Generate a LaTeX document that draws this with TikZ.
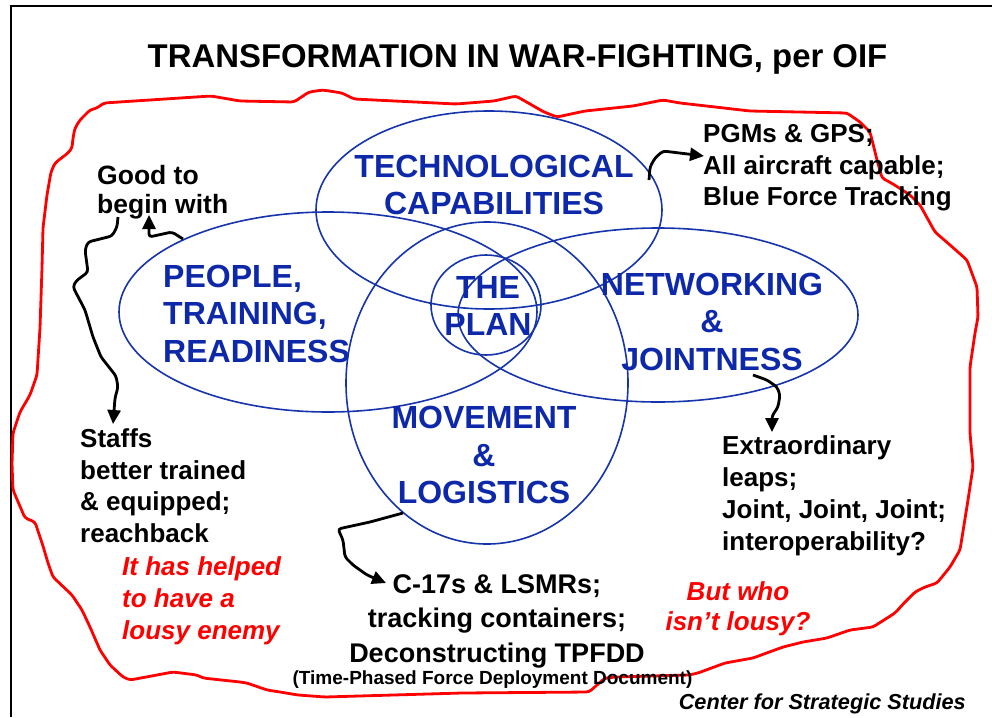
\documentclass[tikz,border=0pt]{standalone}
\usepackage{fontspec}
\setmainfont{Liberation Sans}
\usepackage{tikz}
\usetikzlibrary{arrows.meta,shapes.geometric}
\definecolor{capblue}{RGB}{14,40,170}
\definecolor{ringblue}{RGB}{22,52,172}
\begin{document}
\begin{tikzpicture}[
  x=1pt, y=-1pt,
  ring/.style={draw=ringblue, line width=1.6pt, ellipse, inner sep=0pt},
  big/.style={text=capblue, font=\fontsize{32}{37.5}\selectfont\bfseries, align=center, inner sep=0pt},
  note/.style={font=\fontsize{26}{31.5}\selectfont\bfseries, align=left, inner sep=0pt},
  quip/.style={text=red, font=\fontsize{26}{32}\selectfont\bfseries\itshape, inner sep=0pt},
  flow/.style={-{Triangle[length=14pt, width=13pt]}, line width=2.8pt, rounded corners=3pt}
]
\fill[white] (0,0) rectangle (992,717);
\useasboundingbox (0,0) rectangle (992,717);
\draw[line width=2pt] (11,717) -- (11,6) -- (992,6);

\node[font=\fontsize{32.9}{38}\selectfont\bfseries, inner sep=0pt] (title) at (517.5,59.4) {TRANSFORMATION IN WAR-FIGHTING, per OIF};

\draw[red, line width=2.8pt, rounded corners=3pt]
  (104,103) -- (211,96) -- (240,101) -- (294,102) -- (309,92) -- (323,90) -- (342,93) -- (354,99)
  -- (456,104) -- (494,101) -- (516,96) -- (544,112) -- (557,117) -- (585,111) -- (633,106) -- (663,100)
  -- (680,103) -- (750,111) -- (847,113) -- (860,122) -- (870,132) -- (877,160) -- (882,178) -- (893,184)
  -- (910,195) -- (920,205) -- (935,232) -- (950,245) -- (967,260) -- (977,287) -- (978,317) -- (975,333)
  -- (970,367) -- (970,433) -- (973,467) -- (968,500) -- (960,550) -- (950,567) -- (937,583) -- (925,587)
  -- (915,592) -- (905,602) -- (895,613) -- (873,627) -- (850,630) -- (827,638) -- (803,642) -- (783,647)
  -- (753,658) -- (725,663) -- (698,673) -- (689,675) -- (616,677) -- (605,678) -- (589,692) -- (462,693)
  -- (325,697) -- (298,695) -- (280,692) -- (267,690) -- (247,683) -- (240,682) -- (203,678) -- (197,675)
  -- (173,672) -- (130,680) -- (123,677) -- (110,665) -- (100,650) -- (90,627) -- (82,610) -- (72,595)
  -- (53,577) -- (48,563) -- (43,546) -- (35,522) -- (25,518) -- (13,490) -- (12,464) -- (13,433)
  -- (20,412) -- (30,395) -- (37,375) -- (40,328) -- (42,268) -- (43,228) -- (47,195) -- (51,172)
  -- (55,163) -- (68,153) -- (72,148) -- (73,138) -- (75,128) -- (80,120) -- (90,110)
  -- (97,108) -- cycle;

\node[ring, minimum width=346pt, minimum height=198pt] (techring) at (489,210) {};
\node[ring, minimum width=418pt, minimum height=200pt] (pplring) at (328,312) {};
\node[ring, minimum width=400pt, minimum height=174pt] (netring) at (658,315) {};
\node[ring, minimum width=282pt, minimum height=322pt] (movring) at (487,383) {};
\node[ring, minimum width=110pt, minimum height=100pt] (planring) at (486,305) {};

\node[big] (tech) at (494,184.8) {TECHNOLOGICAL\\CAPABILITIES};
\node[big, anchor=west, align=left] (ppl) at (163,313.6) {PEOPLE,\\TRAINING,\\READINESS};
\node[big] (plan) at (488,306) {THE\\PLAN};
\node[big] (net) at (712,321.6) {NETWORKING\\\&\\JOINTNESS};
\node[big] (mov) at (484,455) {MOVEMENT\\\&\\LOGISTICS};

\node[note, anchor=west, font=\fontsize{26.5}{29}\selectfont\bfseries] (good) at (97,192.7) {Good to\\begin with};
\node[note, anchor=west] (pgm) at (703,168) {PGMs \& GPS;\\All aircraft capable;\\Blue Force Tracking};
\node[note, anchor=west] (staffs) at (80,485.8) {Staffs\\better trained\\\& equipped;\\reachback};
\node[note, anchor=west, font=\fontsize{26}{32}\selectfont\bfseries] (extra) at (722,496) {Extraordinary\\leaps;\\Joint, Joint, Joint;\\interoperability?};
\node[note, align=center, font=\fontsize{27}{34.5}\selectfont\bfseries] (c17) at (497,621.4) {C-17s \& LSMRs;\\tracking containers;\\Deconstructing TPFDD};
\node[font=\fontsize{19}{22}\selectfont\bfseries, inner sep=0pt] (tpfdd) at (492.5,680) {(Time-Phased Force Deployment Document)};

\node[quip, anchor=west, align=left] (enemy) at (122,601) {It has helped\\to have a\\lousy enemy};
\node[quip, align=center, font=\fontsize{26}{30}\selectfont\bfseries\itshape] (lousy) at (738,609) {But who\\isn’t lousy?};
\node[font=\fontsize{21.7}{24}\selectfont\bfseries\itshape, anchor=east, inner sep=0pt] (css) at (966,704) {Center for Strategic Studies};

\coordinate (pplout) at (183,239);
\coordinate (goodin) at (149,215);
\coordinate (goodout) at (118,217);
\coordinate (staffsin) at (113,424);
\coordinate (techout) at (649,180);
\coordinate (pgmin) at (704,156);
\coordinate (netout) at (753,375);
\coordinate (extrain) at (772,432);
\coordinate (movout) at (403,513);
\coordinate (c17in) at (386,583);

\draw[flow] (pplout) -- (172,232) -- (149,237) -- (goodin);
\draw[flow] (goodout) -- (117,227) -- (112,236) -- (88,242) -- (85,250) -- (88,272) -- (76,281) -- (73,287)
  -- (85,310) -- (93,337) -- (101,357) -- (116,376) -- (118,387) -- (115,398) -- (staffsin);
\draw[flow] (techout) -- (650,167) -- (655,158) -- (663,151) -- (pgmin);
\draw[flow] (netout) -- (767,380) -- (777,387) -- (780,395) -- (778,407) -- (772,416) -- (extrain);
\draw[flow] (movout) -- (370,522) -- (338,529) -- (343,540) -- (345,557) -- (353,565) -- (367,575) -- (c17in);
\end{tikzpicture}
\end{document}
